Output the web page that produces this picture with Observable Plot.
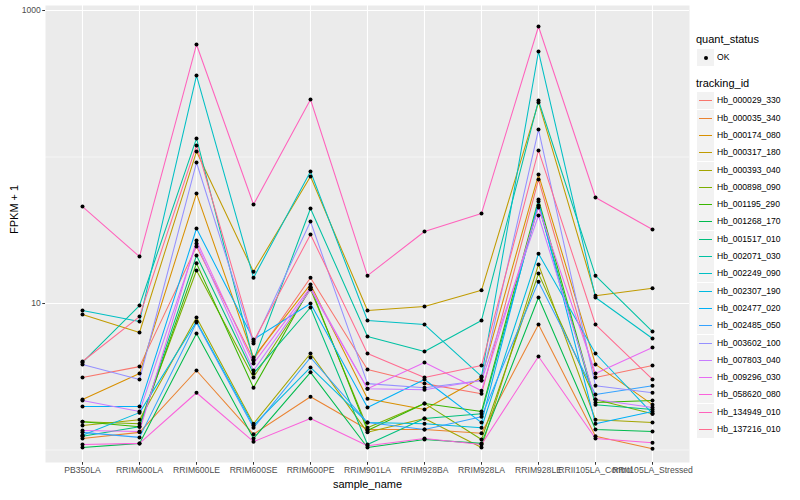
<!DOCTYPE html>
<html>
<head>
<meta charset="utf-8">
<script src="https://cdn.jsdelivr.net/npm/d3@7"></script>
<script src="https://cdn.jsdelivr.net/npm/@observablehq/plot@0.6"></script>
<style>
  body { margin: 0; background: white; font-family: "Liberation Sans", Arial, Helvetica, sans-serif; }
  #wrap { position: relative; width: 800px; height: 500px; }
  #legend { position: absolute; left: 0; top: 0; width: 800px; height: 500px; pointer-events: none; }
  .ltitle { position: absolute; left: 696px; font-size: 11px; color: #000; line-height: 1; }
  .lkey { position: absolute; left: 697px; width: 17px; height: 17px; background: #F2F2F2; }
  .llab { position: absolute; left: 717px; font-size: 8.6px; color: #000; line-height: 1; }
</style>
</head>
<body>
<div id="wrap"><div id="chart"></div><div id="legend"></div></div>
<script>
// Categories (x axis)
const samples = ["PB350LA","RRIM600LA","RRIM600LE","RRIM600SE","RRIM600PE","RRIM901LA","RRIM928BA","RRIM928LA","RRIM928LE","RRII105LA_Control","RRII105LA_Stressed"];

// Series (tracking ids) and their colours (ggplot hue palette)
const trackingIds = ["Hb_000029_330","Hb_000035_340","Hb_000174_080","Hb_000317_180","Hb_000393_040","Hb_000898_090","Hb_001195_290","Hb_001268_170","Hb_001517_010","Hb_002071_030","Hb_002249_090","Hb_002307_190","Hb_002477_020","Hb_002485_050","Hb_003602_100","Hb_007803_040","Hb_009296_030","Hb_058620_080","Hb_134949_010","Hb_137216_010"];
const seriesColors = ["#F8766D","#EA8331","#D89000","#C09B00","#A3A500","#7CAE00","#39B600","#00BB4E","#00BF7D","#00C1A3","#00BFC4","#00BAE0","#00B0F6","#35A2FF","#9590FF","#C77CFF","#E76BF3","#FA62DB","#FF62BC","#FF6C90"];

// FPKM + 1 values, one array per tracking id (order = samples)
const Hb_000029_330 = [3.13, 3.71, 24.5, 4.15, 15.0, 3.54, 2.84, 2.42, 70.2, 3.13, 3.77];
const Hb_000035_340 = [1.20, 1.32, 3.49, 1.28, 2.31, 1.38, 1.38, 1.30, 7.19, 1.24, 1.02];
const Hb_000174_080 = [2.21, 3.33, 56.3, 4.28, 13.5, 2.24, 1.89, 3.13, 75.9, 3.84, 2.04];
const Hb_000317_180 = [8.41, 6.34, 109, 16.5, 73.6, 8.96, 9.54, 12.3, 236, 11.3, 12.7];
const Hb_000393_040 = [1.47, 1.61, 8.02, 1.51, 4.56, 1.32, 1.64, 1.04, 18.5, 1.61, 1.54];
const Hb_000898_090 = [1.56, 1.51, 16.8, 3.13, 12.5, 1.42, 2.08, 1.18, 16.0, 2.21, 1.77];
const Hb_001195_290 = [1.56, 1.44, 18.8, 2.66, 12.9, 1.36, 2.08, 1.83, 51.3, 2.11, 2.18];
const Hb_001268_170 = [1.04, 1.11, 6.24, 1.20, 3.39, 1.04, 1.18, 1.11, 11.0, 1.38, 1.34];
const Hb_001517_010 = [1.24, 1.44, 21.3, 3.33, 9.39, 1.09, 1.64, 1.77, 46.7, 2.04, 1.89];
const Hb_002071_030 = [3.96, 9.69, 134, 4.08, 44.5, 5.95, 4.70, 7.66, 243, 15.5, 6.44];
const Hb_002249_090 = [8.96, 7.54, 360, 15.0, 79.6, 7.66, 7.19, 3.18, 525, 11.0, 5.77];
const Hb_002307_190 = [1.26, 1.80, 7.54, 1.47, 3.66, 1.54, 1.51, 1.42, 21.9, 4.56, 1.77];
const Hb_002477_020 = [1.98, 1.98, 32.5, 5.68, 10.0, 1.95, 3.03, 1.54, 49.7, 1.51, 1.83];
const Hb_002485_050 = [1.32, 1.22, 7.42, 1.42, 4.28, 1.54, 1.38, 1.69, 14.1, 2.39, 2.75];
const Hb_003602_100 = [3.84, 3.03, 91.7, 5.33, 36.3, 2.84, 2.66, 2.98, 154, 2.75, 2.46];
const Hb_007803_040 = [2.18, 1.83, 25.7, 3.49, 12.5, 2.62, 2.58, 2.98, 39.9, 2.21, 1.95];
const Hb_009296_030 = [1.36, 1.34, 26.9, 3.90, 12.9, 2.62, 3.96, 2.54, 45.2, 3.33, 5.01];
const Hb_058620_080 = [1.09, 1.11, 2.46, 1.14, 1.64, 1.07, 1.20, 1.09, 4.35, 1.20, 1.12];
const Hb_134949_010 = [45.9, 20.9, 586, 47.4, 247, 15.5, 31.0, 41.2, 778, 52.9, 32.0];
const Hb_137216_010 = [4.02, 8.15, 120, 5.50, 29.6, 4.56, 3.13, 3.77, 111, 7.19, 3.03];

const yMajorTicks = [10, 1000];
const yMinorTicks = [1, 100];

const seriesList = [Hb_000029_330, Hb_000035_340, Hb_000174_080, Hb_000317_180, Hb_000393_040, Hb_000898_090, Hb_001195_290, Hb_001268_170, Hb_001517_010, Hb_002071_030, Hb_002249_090, Hb_002307_190, Hb_002477_020, Hb_002485_050, Hb_003602_100, Hb_007803_040, Hb_009296_030, Hb_058620_080, Hb_134949_010, Hb_137216_010];

const data = [];
seriesList.forEach((vals, i) => {
  vals.forEach((v, j) => data.push({id: trackingIds[i], sample: samples[j], value: v, status: "OK"}));
});

const chart = Plot.plot({
  width: 800,
  height: 500,
  marginLeft: 45,
  marginRight: 111,
  marginTop: 5,
  marginBottom: 38,
  style: {fontFamily: "Liberation Sans, Arial, Helvetica, sans-serif", fontSize: "8.6px", color: "#4D4D4D", background: "white"},
  x: {type: "point", domain: samples, padding: 0.6, axis: null},
  y: {type: "log", domain: [0.822, 1082], axis: null},
  color: {domain: trackingIds, range: seriesColors},
  marks: [
    Plot.frame({fill: "#EBEBEB", stroke: null}),
    Plot.ruleY(yMinorTicks, {stroke: "white", strokeWidth: 0.55}),
    Plot.ruleY(yMajorTicks, {stroke: "white", strokeWidth: 1.1}),
    Plot.ruleX(samples, {stroke: "white", strokeWidth: 1.1}),
    Plot.line(data, {x: "sample", y: "value", z: "id", stroke: "id", strokeWidth: 1.05}),
    Plot.dot(data, {x: "sample", y: "value", r: 2, fill: "black", stroke: null}),
    Plot.axisY({ticks: yMajorTicks, tickFormat: d => String(d), tickSize: 2.75, tickPadding: 2, fontSize: 8.6, label: null, stroke: "#333333", fill: "#4D4D4D"}),
    Plot.axisX({tickSize: 2.75, tickPadding: 2, fontSize: 8.6, label: null, stroke: "#333333", fill: "#4D4D4D"}),
    Plot.text(["FPKM + 1"], {frameAnchor: "left", dx: -31, rotate: -90, fontSize: 11, fill: "black"}),
    Plot.text(["sample_name"], {frameAnchor: "bottom", dy: 25, fontSize: 11, fill: "black"})
  ]
});
document.getElementById("chart").appendChild(chart);

// Legend (right side, ggplot style)
const legend = document.getElementById("legend");
function add(cls, top, html) {
  const d = document.createElement("div");
  d.className = cls;
  d.style.top = top + "px";
  if (html) d.innerHTML = html;
  legend.appendChild(d);
  return d;
}
add("ltitle", 34, "quant_status");
const okKey = add("lkey", 49);
okKey.innerHTML = '<div style="position:absolute;left:6.5px;top:6.5px;width:4px;height:4px;border-radius:50%;background:black"></div>';
add("llab", 53, "OK");
add("ltitle", 78, "tracking_id");
const step = 17.3;
trackingIds.forEach((id, i) => {
  const cy = 100.8 + i * step;
  const k = add("lkey", cy - 8.5);
  k.innerHTML = `<div style="position:absolute;left:1.7px;top:8px;width:13.6px;height:1.1px;background:${seriesColors[i]}"></div>`;
  add("llab", cy - 4.5, id);
});
</script>
</body>
</html>
